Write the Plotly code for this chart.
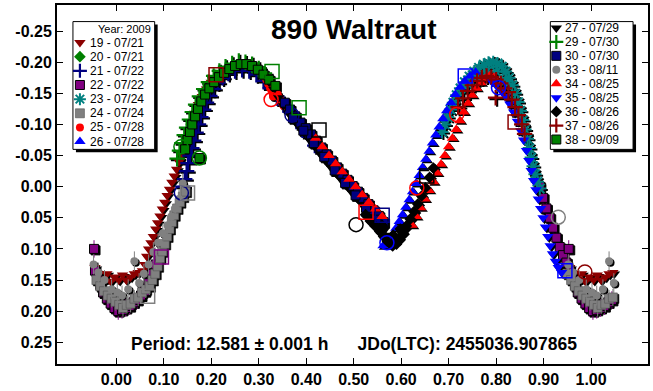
import plotly.graph_objects as go

# ---------------------------------------------------------------------------
# 890 Waltraut - composite lightcurve (phase vs. differential magnitude)
# Each session: rotational phase (0..1) and reduced magnitude.
# ---------------------------------------------------------------------------

s19_phase = [0.955, 0.963, 0.972, 0.980, 0.988, 0.996, 0.005, 0.013, 0.021, 0.030, 0.038, 0.046,
             0.055, 0.060, 0.064, 0.068, 0.073, 0.078, 0.083, 0.087, 0.092, 0.097, 0.102, 0.107,
             0.112, 0.117, 0.122, 0.127, 0.132, 0.137, 0.142, 0.147, 0.152, 0.158, 0.165, 0.173,
             0.181, 0.190, 0.200]
s19_mag = [0.130, 0.140, 0.148, 0.140, 0.152, 0.145, 0.150, 0.142, 0.150, 0.145, 0.140, 0.138,
           0.135, 0.125, 0.112, 0.100, 0.090, 0.080, 0.068, 0.058, 0.047, 0.036, 0.025, 0.014,
           0.004, -0.007, -0.017, -0.028, -0.040, -0.052, -0.065, -0.078, -0.090, -0.104, -0.118, -0.132,
           -0.145, -0.157, -0.168]

s20_phase = [0.158, 0.170, 0.182, 0.195, 0.210, 0.226, 0.242, 0.258, 0.274, 0.290, 0.305]
s20_mag = [-0.100, -0.122, -0.140, -0.158, -0.172, -0.183, -0.190, -0.195, -0.193, -0.188, -0.180]

s21_phase = [0.140, 0.144, 0.148, 0.151, 0.155, 0.159, 0.163, 0.168, 0.173, 0.178, 0.184, 0.190,
             0.197, 0.205, 0.214, 0.224, 0.236, 0.250, 0.265, 0.280, 0.295, 0.310, 0.324, 0.338,
             0.352, 0.366, 0.380, 0.393, 0.406, 0.418]
s21_mag = [0.000, -0.012, -0.025, -0.038, -0.050, -0.062, -0.074, -0.087, -0.100, -0.112, -0.124, -0.135,
           -0.146, -0.157, -0.167, -0.175, -0.182, -0.186, -0.188, -0.186, -0.180, -0.170, -0.158, -0.145,
           -0.132, -0.120, -0.107, -0.094, -0.080, -0.066]

s22_phase = [0.892, 0.899, 0.906, 0.913, 0.920, 0.927, 0.934, 0.941, 0.948, 0.955, 0.953, 0.960,
             0.966, 0.972, 0.980, 0.988, 0.996, 0.004, 0.012, 0.020, 0.028, 0.036, 0.044, 0.052,
             0.060, 0.068, 0.076, 0.083, 0.090]
s22_mag = [0.000, 0.018, 0.035, 0.050, 0.066, 0.082, 0.097, 0.110, 0.122, 0.135, 0.100, 0.148,
           0.158, 0.170, 0.180, 0.188, 0.195, 0.200, 0.198, 0.195, 0.192, 0.186, 0.182, 0.175,
           0.168, 0.155, 0.140, 0.125, 0.110]

s23_phase = [0.686, 0.692, 0.698, 0.704, 0.710, 0.717, 0.725, 0.734, 0.744, 0.754, 0.764, 0.774,
             0.784, 0.794, 0.803, 0.812, 0.820, 0.827, 0.834, 0.840, 0.846, 0.851, 0.856, 0.861,
             0.866, 0.870, 0.874, 0.878, 0.882, 0.887, 0.892, 0.760, 0.780, 0.800, 0.820, 0.740]
s23_mag = [-0.088, -0.100, -0.112, -0.124, -0.135, -0.147, -0.158, -0.168, -0.177, -0.185, -0.191, -0.196,
           -0.199, -0.200, -0.198, -0.193, -0.185, -0.175, -0.163, -0.150, -0.136, -0.122, -0.107, -0.092,
           -0.077, -0.062, -0.047, -0.033, -0.020, -0.008, 0.003, -0.175, -0.185, -0.185, -0.170, -0.165]

s24_phase = [0.950, 0.958, 0.966, 0.974, 0.982, 0.990, 0.998, 0.006, 0.014, 0.022, 0.030, 0.038,
             0.046, 0.054, 0.062, 0.070, 0.076, 0.082, 0.087, 0.092, 0.097, 0.102, 0.107, 0.112,
             0.117, 0.122, 0.128, 0.134, 0.140, 0.146]
s24_mag = [0.140, 0.150, 0.160, 0.168, 0.175, 0.180, 0.185, 0.190, 0.195, 0.190, 0.188, 0.180,
           0.178, 0.170, 0.165, 0.160, 0.150, 0.140, 0.128, 0.115, 0.104, 0.092, 0.080, 0.068,
           0.057, 0.046, 0.035, 0.025, 0.016, 0.008]

s25_phase = [0.316, 0.320, 0.324, 0.328, 0.332, 0.336, 0.340, 0.344, 0.348, 0.352, 0.330]
s25_mag = [-0.172, -0.165, -0.158, -0.152, -0.162, -0.155, -0.148, -0.142, -0.136, -0.130, -0.145]

s26_phase = [0.562, 0.568, 0.575, 0.582, 0.589, 0.596, 0.603, 0.610, 0.617, 0.624, 0.631, 0.638,
             0.645, 0.652, 0.659, 0.666, 0.673, 0.680, 0.688, 0.696, 0.705, 0.714, 0.724, 0.734,
             0.745, 0.757]
s26_mag = [0.095, 0.092, 0.085, 0.077, 0.067, 0.056, 0.045, 0.033, 0.021, 0.008, -0.005, -0.018,
           -0.031, -0.044, -0.057, -0.070, -0.083, -0.096, -0.109, -0.122, -0.135, -0.148, -0.160, -0.170,
           -0.178, -0.184]

s27_phase = [0.200, 0.215, 0.230, 0.245, 0.260, 0.275, 0.290, 0.302, 0.314, 0.322, 0.332, 0.342,
             0.352, 0.363, 0.374, 0.385, 0.396, 0.407, 0.418, 0.429, 0.440, 0.451, 0.462, 0.473,
             0.484, 0.495, 0.506, 0.517, 0.528, 0.539, 0.550, 0.561, 0.570, 0.580]
s27_mag = [-0.163, -0.175, -0.184, -0.190, -0.193, -0.194, -0.190, -0.184, -0.177, -0.168, -0.156, -0.143,
           -0.130, -0.118, -0.107, -0.096, -0.086, -0.075, -0.064, -0.053, -0.042, -0.032, -0.022, -0.012,
           -0.002, 0.008, 0.018, 0.028, 0.038, 0.048, 0.058, 0.068, 0.078, 0.088]

s29_phase = [0.128, 0.133, 0.138, 0.143, 0.148, 0.154, 0.160, 0.167, 0.175, 0.184, 0.194, 0.205,
             0.217, 0.230, 0.244, 0.258, 0.272, 0.286, 0.300, 0.312]
s29_mag = [-0.045, -0.058, -0.070, -0.083, -0.095, -0.108, -0.120, -0.132, -0.145, -0.157, -0.168, -0.178,
           -0.186, -0.193, -0.198, -0.202, -0.200, -0.197, -0.190, -0.182]

s30_phase = [0.355, 0.366, 0.377, 0.388, 0.399, 0.410, 0.421, 0.432, 0.443, 0.454, 0.465, 0.476,
             0.487, 0.498, 0.509, 0.520, 0.531, 0.542, 0.553, 0.563,
             0.372, 0.394, 0.416, 0.438, 0.460, 0.482, 0.504, 0.526, 0.548]
s30_mag = [-0.135, -0.124, -0.113, -0.103, -0.094, -0.084, -0.074, -0.063, -0.052, -0.042, -0.031, -0.021,
           -0.011, -0.001, 0.008, 0.018, 0.028, 0.038, 0.047, 0.057,
           -0.110, -0.090, -0.070, -0.048, -0.026, -0.006, 0.014, 0.034, 0.053]

s33_phase = [0.952, 0.962, 0.975, 0.990, 0.002, 0.012, 0.025, 0.038, 0.048, 0.058, 0.068, 0.078,
             0.088, 0.098, 0.108, 0.116, 0.124, 0.132, 0.140]
s33_mag = [0.125, 0.138, 0.150, 0.165, 0.170, 0.175, 0.165, 0.120, 0.155, 0.140, 0.125, 0.105,
           0.090, 0.075, 0.062, 0.048, 0.035, 0.020, -0.005]

s34_phase = [0.420, 0.434, 0.448, 0.462, 0.476, 0.490, 0.504, 0.518, 0.532, 0.546, 0.560,
             0.623, 0.632, 0.641, 0.650, 0.659, 0.668, 0.676, 0.684, 0.692, 0.700, 0.708,
             0.716, 0.724, 0.732, 0.741, 0.750, 0.759, 0.768, 0.777, 0.786, 0.795]
s34_mag = [-0.078, -0.064, -0.050, -0.037, -0.024, -0.012, 0.000, 0.013, 0.025, 0.036, 0.048,
           0.062, 0.048, 0.034, 0.020, 0.006, -0.008, -0.022, -0.036, -0.050, -0.064, -0.078,
           -0.092, -0.106, -0.120, -0.134, -0.147, -0.158, -0.167, -0.174, -0.178, -0.176]

s35_phase = [0.790, 0.800, 0.810, 0.820, 0.829, 0.837, 0.845, 0.852, 0.858, 0.864, 0.869, 0.874,
             0.879, 0.884, 0.889, 0.894, 0.899, 0.904, 0.909, 0.914, 0.919, 0.925, 0.931, 0.938]
s35_mag = [-0.170, -0.163, -0.155, -0.145, -0.133, -0.120, -0.105, -0.090, -0.075, -0.058, -0.042, -0.026,
           -0.010, 0.005, 0.020, 0.035, 0.050, 0.065, 0.080, 0.095, 0.108, 0.120, 0.130, 0.138]

s36_phase = [0.525, 0.535, 0.545, 0.555, 0.563, 0.571, 0.579, 0.587, 0.595, 0.603, 0.611, 0.619,
             0.627, 0.635, 0.643, 0.651, 0.583, 0.598, 0.560, 0.660, 0.668]
s36_mag = [0.045, 0.055, 0.063, 0.072, 0.080, 0.088, 0.093, 0.090, 0.083, 0.074, 0.063, 0.052,
           0.040, 0.028, 0.015, 0.002, 0.078, 0.068, 0.062, -0.015, -0.030]

s37_phase = [0.720, 0.730, 0.740, 0.750, 0.760, 0.770, 0.780, 0.790, 0.799, 0.800, 0.810, 0.818,
             0.826, 0.833, 0.840, 0.847, 0.854, 0.860]
s37_mag = [-0.128, -0.142, -0.154, -0.163, -0.170, -0.175, -0.178, -0.176, -0.143, -0.172, -0.166, -0.158,
           -0.152, -0.140, -0.128, -0.115, -0.100, -0.085]

s38_phase = [0.145, 0.150, 0.155, 0.160, 0.166, 0.172, 0.175, 0.179, 0.187, 0.196, 0.206, 0.216,
             0.227, 0.238, 0.250, 0.262, 0.274, 0.286, 0.298, 0.310, 0.322, 0.335]
s38_mag = [-0.060, -0.075, -0.088, -0.100, -0.113, -0.125, -0.046, -0.137, -0.148, -0.158, -0.168, -0.176,
           -0.183, -0.189, -0.194, -0.197, -0.197, -0.194, -0.188, -0.180, -0.172, -0.162]

# First / last observation of several sessions, drawn as large open symbols
mark_session = ["29", "38", "25", "21", "38", "38", "19", "21", "24", "22", "24", "27", "27",
                "30", "34", "26", "34", "27", "26", "34", "37", "35", "33", "35", "19"]
mark_phase = [0.136, 0.175, 0.326, 0.370, 0.385, 0.328, 0.210, 0.137, 0.150, 0.095, 0.066, 0.427, 0.505,
              0.560, 0.526, 0.570, 0.633, 0.654, 0.735, 0.717, 0.840, 0.805, 0.931, 0.945, 0.987]
mark_mag = [-0.064, -0.046, -0.140, -0.115, -0.127, -0.185, -0.180, 0.010, 0.010, 0.113, 0.176, -0.091, 0.061,
            0.046, 0.041, 0.090, 0.002, -0.017, -0.178, -0.116, -0.104, -0.159, 0.049, 0.135, 0.137]
mark_kind = ["circle", "circle", "circle", "circle", "square", "square", "square", "circle", "square",
             "square", "square", "square", "circle", "square", "square", "circle", "circle", "square",
             "square", "circle", "square", "circle", "circle", "square", "circle"]

year_label = "Year: 2009"
x_ticks = [0.0, 0.1, 0.2, 0.3, 0.4, 0.5, 0.6, 0.7, 0.8, 0.9, 1.0]
y_ticks = [-0.25, -0.20, -0.15, -0.10, -0.05, 0.00, 0.05, 0.10, 0.15, 0.20, 0.25]


def cross(color):
    return dict(symbol="cross-thin", color=color, size=11, line=dict(width=2.2, color=color))


# session id, legend text, data, marker style
sessions = [
    ("19", "19 - 07/21", s19_phase, s19_mag, dict(symbol="triangle-down", color="#8b0000", size=10)),
    ("20", "20 - 07/21", s20_phase, s20_mag, dict(symbol="diamond", color="#008000", size=9)),
    ("21", "21 - 07/22", s21_phase, s21_mag, cross("#000080")),
    ("22", "22 - 07/22", s22_phase, s22_mag, dict(symbol="square", color="#800080", size=9,
                                                  line=dict(width=1, color="#000000"))),
    ("23", "23 - 07/24", s23_phase, s23_mag, dict(symbol="asterisk", color="#008080", size=11,
                                                  line=dict(width=2, color="#008080"))),
    ("24", "24 - 07/24", s24_phase, s24_mag, dict(symbol="square", color="#808080", size=9,
                                                  line=dict(width=0.6, color="#505050"))),
    ("25", "25 - 07/28", s25_phase, s25_mag, dict(symbol="circle", color="#ff0000", size=8)),
    ("26", "26 - 07/28", s26_phase, s26_mag, dict(symbol="triangle-up", color="#0000ff", size=10)),
    ("27", "27 - 07/29", s27_phase, s27_mag, dict(symbol="triangle-down", color="#000000", size=10)),
    ("29", "29 - 07/30", s29_phase, s29_mag, cross("#008000")),
    ("30", "30 - 07/30", s30_phase, s30_mag, dict(symbol="square", color="#000080", size=9,
                                                  line=dict(width=1, color="#000000"))),
    ("33", "33 - 08/11", s33_phase, s33_mag, dict(symbol="circle", color="#808080", size=8)),
    ("34", "34 - 08/25", s34_phase, s34_mag, dict(symbol="triangle-up", color="#ff0000", size=10)),
    ("35", "35 - 08/25", s35_phase, s35_mag, dict(symbol="triangle-down", color="#0000ff", size=10)),
    ("36", "36 - 08/26", s36_phase, s36_mag, dict(symbol="diamond", color="#000000", size=9)),
    ("37", "37 - 08/26", s37_phase, s37_mag, cross("#8b0000")),
    ("38", "38 - 09/09", s38_phase, s38_mag, dict(symbol="square", color="#008000", size=9,
                                                  line=dict(width=1, color="#000000"))),
]
with_errors = {"22": 0.014, "24": 0.014, "33": 0.016}

FONT = "Liberation Sans, Arial, sans-serif"

# figure-pixel frame of the plotting area
W, H = 653, 391
ML, MR, MT, MB = 57, 3, 5, 18
PX0, PX1, PY0, PY1 = ML, W - MR, MT, H - MB
X_RANGE = [-0.125, 1.12]
Y_RANGE = [0.285, -0.292]
SHADOW_PX = 1.5
sx = SHADOW_PX * (X_RANGE[1] - X_RANGE[0]) / (PX1 - PX0)
sy = SHADOW_PX * (Y_RANGE[0] - Y_RANGE[1]) / (PY1 - PY0)


def wrapped(phase, mag):
    """Repeat observations near phase 0/1 on the other side, as in a phased plot."""
    xs, ys = [], []
    for p, m in zip(phase, mag):
        xs.append(p)
        ys.append(m)
        if p < 0.05:
            xs.append(p + 1.0)
            ys.append(m)
        if p > 0.95:
            xs.append(p - 1.0)
            ys.append(m)
    return xs, ys


def shadow_of(mk):
    sh = dict(mk)
    sh["color"] = "#000000"
    if "line" in mk:
        sh["line"] = dict(mk["line"], color="#000000")
    return sh


fig = go.Figure()
color_of = {}
# drop shadows (on the slightly shifted base axes x/y, drawn underneath)
for sid, label, ph, mg, mk in sessions:
    xs, ys = wrapped(ph, mg)
    fig.add_trace(go.Scatter(x=xs, y=ys, xaxis="x", yaxis="y", mode="markers",
                             marker=shadow_of(mk), showlegend=False, hoverinfo="skip"))

# observations (on the visible axes x3/y3)
for sid, label, ph, mg, mk in sessions:
    color_of[sid] = mk["color"]
    xs, ys = wrapped(ph, mg)
    tr = dict(x=xs, y=ys, xaxis="x3", yaxis="y3", mode="markers", name=label, marker=mk,
              showlegend=False, hoverinfo="skip")
    if sid in with_errors:
        tr["error_y"] = dict(type="constant", value=with_errors[sid], thickness=1, width=0,
                             color=mk["color"])
    fig.add_trace(go.Scatter(**tr))

fig.add_trace(go.Scatter(
    x=mark_phase, y=mark_mag, xaxis="x3", yaxis="y3", mode="markers", showlegend=False,
    hoverinfo="skip",
    marker=dict(symbol=[k + "-open" for k in mark_kind], size=14,
                color=[color_of[s] for s in mark_session],
                line=dict(width=1.5, color=[color_of[s] for s in mark_session])),
))

# ---- legend boxes (drawn on a pixel overlay axis x2/y2) ----
boxes = [(73, 22, 155, 153), (552, 22, 635, 153)]
shapes = []
for x0, y0, x1, y1 in boxes:
    shapes.append(dict(type="rect", xref="x2", yref="y2", x0=x0 + 3, y0=y0 + 3, x1=x1 + 3, y1=y1 + 3,
                       fillcolor="#000000", line=dict(width=0), layer="below"))
    shapes.append(dict(type="rect", xref="x2", yref="y2", x0=x0, y0=y0, x1=x1, y1=y1,
                       fillcolor="#ffffff", line=dict(width=1, color="#000000"), layer="below"))

annotations = []
left_items = sessions[:8]
right_items = sessions[8:]
columns = [(left_items, 80, 88, 43.5, 14.5), (right_items, 558, 565, 28.5, 14.3)]
for items, mx, tx, y_first, step in columns:
    for i, (sid, label, _, _, mk) in enumerate(items):
        yy = y_first + step * i
        lmk = dict(mk)
        lmk["size"] = min(mk["size"], 10)
        fig.add_trace(go.Scatter(x=[mx], y=[yy], xaxis="x2", yaxis="y2", mode="markers",
                                 marker=lmk, showlegend=False, hoverinfo="skip"))
        annotations.append(dict(xref="x2", yref="y2", x=tx, y=yy, text=label, showarrow=False,
                                xanchor="left", yanchor="middle",
                                font=dict(family=FONT, size=12, color="#000000")))
annotations.append(dict(xref="x2", yref="y2", x=153, y=29.5, text=year_label, showarrow=False,
                        xanchor="right", yanchor="middle",
                        font=dict(family=FONT, size=11, color="#000000")))

annotations.append(dict(xref="x2", yref="y2", x=354, y=30, text="<b>890 Waltraut</b>",
                        showarrow=False, xanchor="center", yanchor="middle",
                        font=dict(family=FONT, size=28, color="#000000")))
sp = "\u00a0" * 6
annotations.append(dict(xref="x2", yref="y2", x=355, y=352,
                        text="<b>Period: 12.581 \u00b1 0.001 h" + sp + "JDo(LTC): 2455036.907865</b>",
                        showarrow=False, xanchor="center", yanchor="middle",
                        font=dict(family=FONT, size=17.5, color="#000000")))

axis_common = dict(showgrid=False, zeroline=False, showline=True, linewidth=2, linecolor="#000000",
                   mirror="ticks", ticks="inside", ticklen=6, tickwidth=1, tickcolor="#000000",
                   tickfont=dict(family=FONT, size=16, color="#000000", weight="bold"))

fig.update_layout(
    width=W, height=H,
    margin=dict(l=ML, r=MR, t=MT, b=MB),
    paper_bgcolor="#ffffff", plot_bgcolor="#ffffff",
    # base axes carry the shadow layer, offset by a pixel and a half
    xaxis=dict(range=[X_RANGE[0] - sx, X_RANGE[1] - sx], visible=False),
    yaxis=dict(range=[Y_RANGE[0] - sy, Y_RANGE[1] - sy], visible=False),
    xaxis2=dict(overlaying="x", range=[PX0, PX1], visible=False),
    yaxis2=dict(overlaying="y", range=[PY1, PY0], visible=False),
    xaxis3=dict(overlaying="x", anchor="y3", range=X_RANGE, tickvals=x_ticks,
                ticktext=[f"{v:.2f}" for v in x_ticks], **axis_common),
    yaxis3=dict(overlaying="y", anchor="x3", range=Y_RANGE, tickvals=y_ticks,
                ticktext=[f"{v:.2f}" for v in y_ticks], **axis_common),
    shapes=shapes,
    annotations=annotations,
    showlegend=False,
)

fig.write_html("out.html")
